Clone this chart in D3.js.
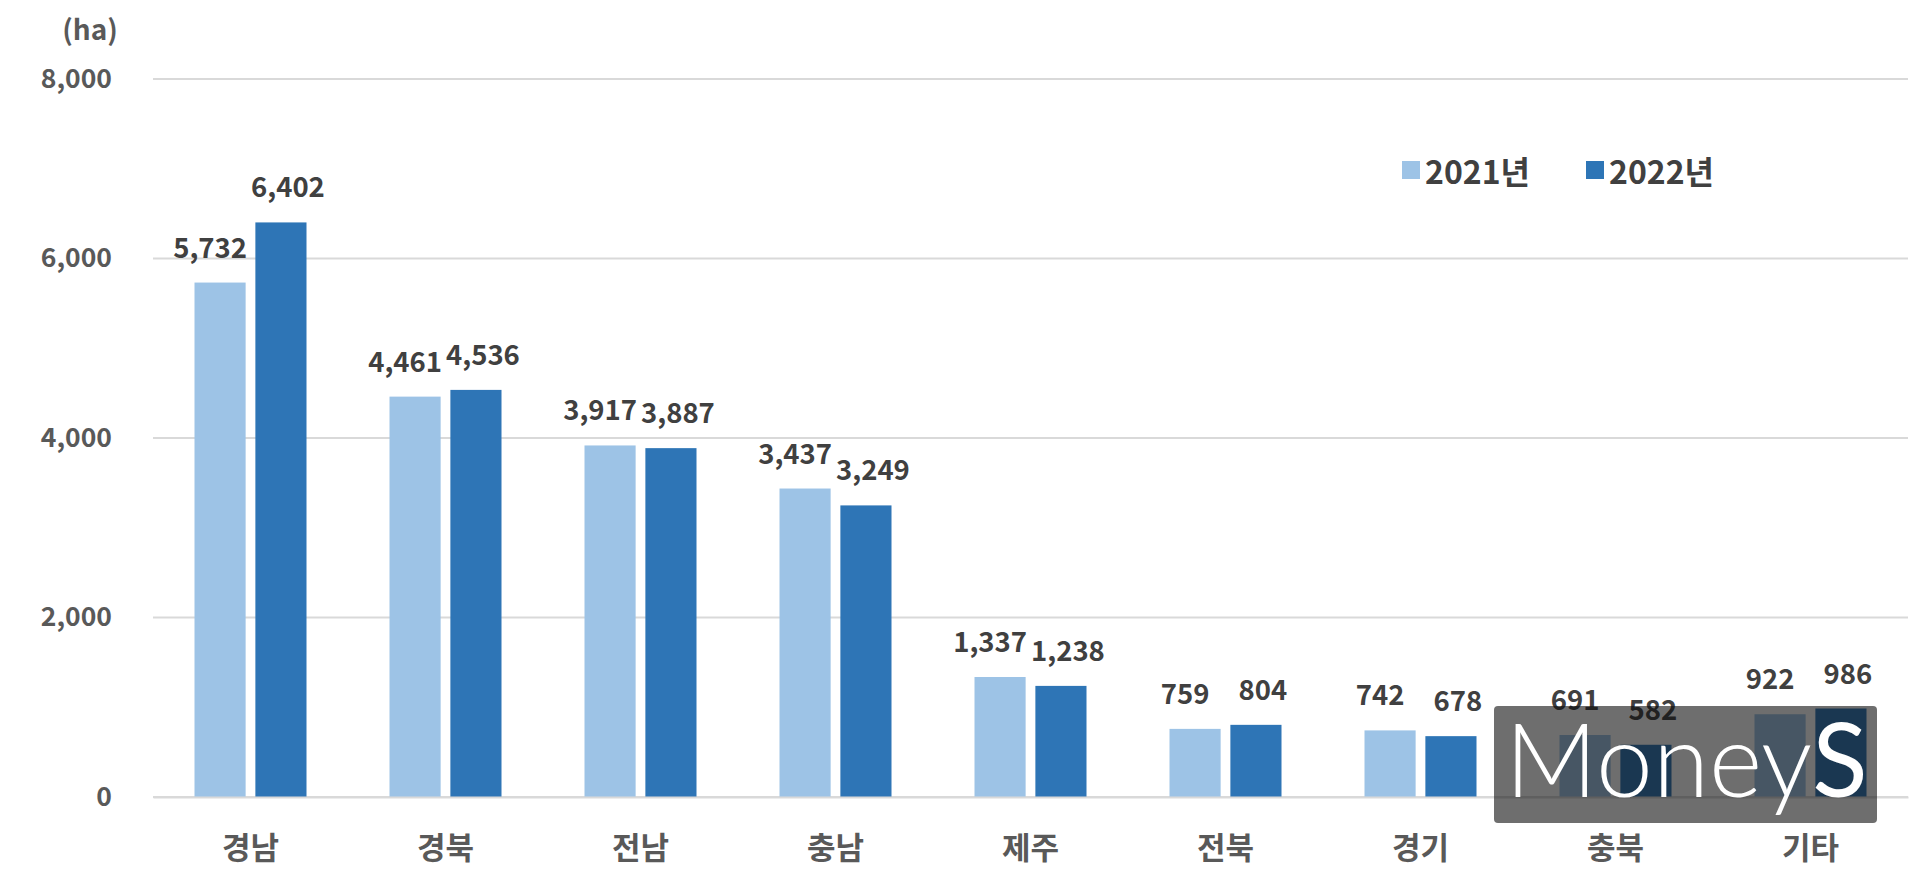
<!DOCTYPE html>
<html>
<head>
<meta charset="utf-8">
<script src="https://cdn.jsdelivr.net/npm/d3@7"></script>
<style>
  html, body { margin: 0; padding: 0; background: #fff; }
  svg text { font-family: "Noto Sans CJK KR", "Noto Sans", sans-serif; font-weight: 700; }
</style>
</head>
<body>
<div id="chart"></div>
<script>
// data
const regions = ["경남", "경북", "전남", "충남", "제주", "전북", "경기", "충북", "기타"]
const series = ["2021년", "2022년"]
const area2021 = [5732, 4461, 3917, 3437, 1337, 759, 742, 691, 922]
const area2022 = [6402, 4536, 3887, 3249, 1238, 804, 678, 582, 986]
const yTicks = [0, 2000, 4000, 6000, 8000]
const unitLabel = "(ha)"

const W = 1920, H = 869
const margin = {top: 79, right: 12, bottom: 72, left: 153}

const svg = d3.select("#chart").append("svg")
    .attr("width", W)
    .attr("height", H)

const y = d3.scaleLinear()
    .domain([0, 8000])
    .range([H - margin.bottom, margin.top])

const x0 = d3.scaleBand()
    .domain(regions)
    .range([margin.left, W - margin.right])

const groupW = 112
const x1 = d3.scaleBand()
    .domain(series)
    .range([0, groupW])
    .paddingInner(0.16)

const color = d3.scaleOrdinal()
    .domain(series)
    .range(["#9dc3e6", "#2e75b6"])

// gridlines
svg.append("g")
    .selectAll("line")
    .data(yTicks)
    .join("line")
    .attr("x1", margin.left)
    .attr("x2", W - margin.right)
    .attr("y1", d => y(d))
    .attr("y2", d => y(d))
    .attr("stroke", "#d9d9d9")
    .attr("stroke-width", 2)

// y axis labels
const yAxis = svg.append("g")
    .attr("transform", "translate(112,0)")
    .call(d3.axisLeft(y).tickValues(yTicks).tickFormat(d3.format(",")).tickSize(0).tickPadding(0))
yAxis.select(".domain").remove()
yAxis.selectAll("text")
    .attr("fill", "#595959")
    .style("font-size", "26.5px")
    .style("font-family", "\"Noto Sans CJK KR\", sans-serif")
    .style("font-weight", 700)

svg.append("text")
    .attr("x", 90)
    .attr("y", 28)
    .attr("text-anchor", "middle")
    .attr("dominant-baseline", "central")
    .attr("fill", "#595959")
    .style("font-size", "28px")
    .text(unitLabel)

// bars
const rows = regions.map((r, i) => ({region: r, values: [area2021[i], area2022[i]]}))
const offset = (x0.bandwidth() - groupW) / 2
const labelDx = [-10, 7]

const groups = svg.append("g")
    .selectAll("g")
    .data(rows)
    .join("g")
    .attr("transform", d => `translate(${x0(d.region) + offset},0)`)

groups.selectAll("rect")
    .data(d => d.values.map((v, j) => ({s: series[j], v: v})))
    .join("rect")
    .attr("x", d => x1(d.s))
    .attr("width", x1.bandwidth())
    .attr("y", d => y(d.v))
    .attr("height", d => y(0) - y(d.v))
    .attr("fill", d => color(d.s))

groups.selectAll("text")
    .data(d => d.values.map((v, j) => ({s: series[j], v: v, j: j})))
    .join("text")
    .attr("x", d => x1(d.s) + x1.bandwidth() / 2 + labelDx[d.j])
    .attr("y", d => y(d.v) - 25)
    .attr("text-anchor", "middle")
    .attr("fill", "#404040")
    .style("font-size", "27.5px")
    .text(d => d3.format(",")(d.v))

// x axis baseline + category labels
const xAxis = svg.append("g")
    .attr("transform", `translate(0,${y(0)})`)
    .call(d3.axisBottom(x0).tickSize(0).tickPadding(0))
xAxis.select(".domain")
    .attr("stroke", "#d9d9d9")
    .attr("stroke-width", 2)
xAxis.selectAll("text")
    .attr("dy", null)
    .attr("y", 48)
    .attr("dominant-baseline", "central")
    .attr("fill", "#595959")
    .style("font-size", "31px")
    .style("font-family", "\"Noto Sans CJK KR\", sans-serif")
    .style("font-weight", 700)

// legend
const legendX = [1402, 1586]
const legend = svg.append("g")
    .selectAll("g")
    .data(series)
    .join("g")
    .attr("transform", (d, i) => `translate(${legendX[i]},170)`)
legend.append("rect")
    .attr("x", 0)
    .attr("y", -9)
    .attr("width", 18)
    .attr("height", 18)
    .attr("fill", d => color(d))
legend.append("text")
    .attr("x", 23)
    .attr("y", 0)
    .attr("dominant-baseline", "central")
    .attr("fill", "#404040")
    .style("font-size", "32px")
    .text(d => d)

// watermark
const wm = svg.append("g")
wm.append("rect")
    .attr("x", 1494)
    .attr("y", 706)
    .attr("width", 383)
    .attr("height", 117)
    .attr("rx", 4)
    .attr("fill", "#0d0d0d")
    .attr("opacity", 0.6)
const wmText = wm.append("text")
    .attr("x", 1505)
    .attr("y", 797)
    .attr("fill", "#fff")
    .style("font-family", "Lato, \"Open Sans\", sans-serif")
    .style("font-size", "102px")
wmText.append("tspan").style("font-weight", 300).text("Money")
wmText.append("tspan").style("font-weight", 400).text("S")
</script>
</body>
</html>
